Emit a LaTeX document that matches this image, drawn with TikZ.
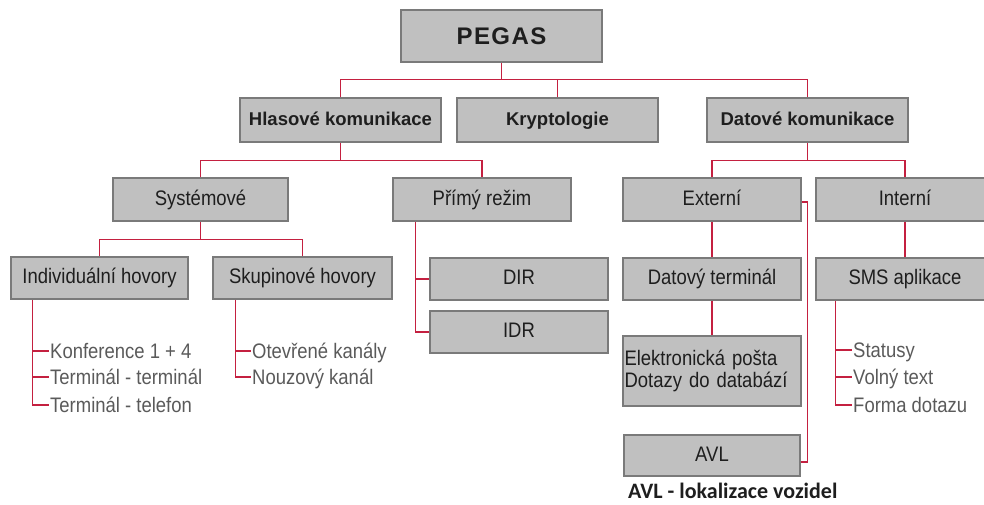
\documentclass[tikz,border=0pt]{standalone}
\usepackage{fontspec}
\setmainfont{Liberation Sans}
\newfontfamily\narrowfont{Liberation Sans}[FakeStretch=0.88]
\newfontfamily\capfont{Carlito}
\definecolor{boxfill}{HTML}{C0C0C0}
\definecolor{boxline}{HTML}{7A7A7A}
\definecolor{conred}{HTML}{C42040}
\definecolor{listgray}{HTML}{5A5A5A}
\definecolor{boxtext}{HTML}{1E1E1E}
\begin{document}
\begin{tikzpicture}[x=1pt,y=-1pt,
  box/.style={draw=boxline, fill=boxfill, line width=1.2pt, inner sep=0pt,
    minimum width=178pt, minimum height=42pt, text=boxtext,
    text height=15pt, text depth=4pt,
    font=\narrowfont\fontsize{21}{22}\selectfont},
  topbox/.style={box, minimum width=201pt, minimum height=44pt,
    text height=14pt, text depth=4pt,
    font=\bfseries\fontsize{18.5}{22}\selectfont},
  conn/.style={draw=conred, line width=1.6pt},
  item/.style={anchor=west, inner xsep=1pt, inner ysep=0pt, text height=15pt,
    text depth=0pt, text=listgray, font=\narrowfont\fontsize{21}{22}\selectfont}]
\useasboundingbox (0,0) rectangle (984,504);
\begin{scope}
\clip (0,0) rectangle (984,504);
% level 0
\node[box, minimum width=201pt, minimum height=52pt, text height=17pt, text depth=0pt,
  font=\bfseries\fontsize{24}{28}\selectfont\addfontfeatures{LetterSpace=6}]
  (pegas) at (501.5,36) {PEGAS};
% level 1
\node[topbox] (hlas) at (340.5,120) {Hlasové komunikace};
\node[topbox] (kryp) at (557.5,120) {Kryptologie};
\node[topbox] (dat)  at (807.5,120) {Datové komunikace};
% level 2
\node[box, minimum width=175pt, minimum height=43pt] (sys) at (200.5,199.5) {Systémové};
\node[box, minimum height=43pt] (primy) at (482,199.5) {Přímý režim};
\node[box, minimum height=43pt] (ext) at (712,199.5) {Externí};
\node[box, minimum height=43pt] (int) at (905,199.5) {Interní};
% level 3
\node[box, minimum width=177pt] (ind) at (99.5,278) {Individuální hovory};
\node[box, minimum width=179pt] (sk) at (302.5,278) {Skupinové hovory};
\node[box] (dir) at (519,279) {DIR};
\node[box] (idr) at (519,332) {IDR};
\node[box] (dterm) at (712,279) {Datový terminál};
\node[box] (sms) at (905,279) {SMS aplikace};
% level 4
\node[box, minimum height=70pt, align=left, text width=175pt,
  text height=, text depth=] (el) at (712,371)
  {Elektronická pošta\\Dotazy do databází};
\node[box, minimum width=176pt, minimum height=41pt] (avl) at (712,455.5) {AVL};
% list items
\node[item] (k1) at (49,351) {Konference 1 + 4};
\node[item] (k2) at (49,377) {Terminál - terminál};
\node[item] (k3) at (49,405) {Terminál - telefon};
\node[item] (o1) at (251,351) {Otevřené kanály};
\node[item] (o2) at (251,377) {Nouzový kanál};
\node[item] (s1) at (852,350) {Statusy};
\node[item] (s2) at (852,377) {Volný text};
\node[item] (s3) at (852,405) {Forma dotazu};
% caption
\node[anchor=base west, inner sep=0pt, text=boxtext,
  font=\capfont\bfseries\fontsize{22}{24}\selectfont] (cap) at (628,498)
  {AVL - lokalizace vozidel};
% connectors
\draw[conn] (pegas.south) -- ++(0,17) coordinate (b1);
\draw[conn] (hlas.north) |- (b1) -| (dat.north);
\draw[conn] (kryp.north) -- (kryp.north |- b1);
\draw[conn] (hlas.south) -- ++(0,18) coordinate (b2);
\draw[conn] (sys.north) |- (b2) -| (primy.north);
\draw[conn] (sys.south) -- ++(0,18) coordinate (b3);
\draw[conn] (ind.north) |- (b3) -| (sk.north);
\draw[conn] (dat.south) -- ++(0,18) coordinate (b4);
\draw[conn] (ext.north) |- (b4) -| (int.north);
% individual list
\coordinate (iv) at ([xshift=22pt]ind.south west);
\draw[conn] (iv) |- (k3.west);
\draw[conn] (iv |- k1.west) -- (k1.west);
\draw[conn] (iv |- k2.west) -- (k2.west);
% group list
\coordinate (gv) at ([xshift=23pt]sk.south west);
\draw[conn] (gv) |- (o2.west);
\draw[conn] (gv |- o1.west) -- (o1.west);
% direct mode
\coordinate (pv) at ([xshift=23pt]primy.south west);
\draw[conn] (pv) |- (idr.west);
\draw[conn] (pv |- dir.west) -- (dir.west);
% external
\draw[conn] (ext.south) -- (dterm.north);
\draw[conn] (dterm.south) -- (el.north);
\draw[conn] ([yshift=-2.5pt]ext.east) -- ++(6,0) |- ([yshift=-6.5pt]avl.east);
% internal
\draw[conn] (int.south) -- (sms.north);
\coordinate (sv) at ([xshift=20pt]sms.south west);
\draw[conn] (sv) |- (s3.west);
\draw[conn] (sv |- s1.west) -- (s1.west);
\draw[conn] (sv |- s2.west) -- (s2.west);
\end{scope}
\end{tikzpicture}
\end{document}
